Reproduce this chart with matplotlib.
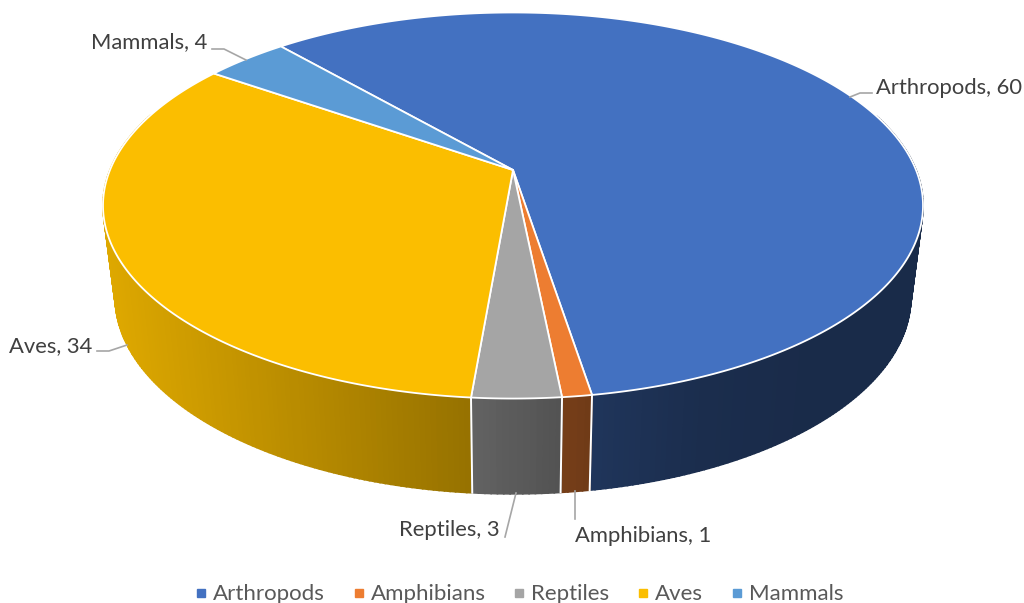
import numpy as np
import matplotlib
matplotlib.use("Agg")
import matplotlib.pyplot as plt
from matplotlib.lines import Line2D
from matplotlib.patches import Polygon

categories = ["Arthropods", "Amphibians", "Reptiles", "Aves", "Mammals"]
values = [60, 1, 3, 34, 4]
colors = ["#4371C1", "#ED7D31", "#A5A5A5", "#FBBE00", "#5B9BD5"]

START = -41.0
K = 0.184
CX = 513.0
TOP = dict(a=403.0, b=186.5, y0=170.0)
BOT = dict(a=391.0, b=190.0, y0=261.0)

plt.rcParams["font.family"] = ["Lato", "DejaVu Sans"]
fig = plt.figure(figsize=(10.24, 6.03), dpi=100, facecolor="white")
ax = fig.add_axes([0, 0, 1, 1])
ax.set_xlim(0, 1024)
ax.set_ylim(603, 0)
ax.axis("off")


def project(theta_deg, disc):
    t = np.radians(theta_deg)
    u, v = np.sin(t), -np.cos(t)
    w = 1 - K * v
    return CX + disc["a"] * u / w, disc["y0"] + disc["b"] * v / w, v


def shade(x):
    return np.interp(x, [105, 470, 560, 592, 700, 800], [0.89, 0.60, 0.50, 0.47, 0.40, 0.38])


total = sum(values)
spans = np.array(values) / total * 360
starts = START + np.concatenate([[0], np.cumsum(spans)[:-1]])

# side strips, painted back to front
strips = []
for start, span, col in zip(starts, spans, colors):
    th = np.linspace(start, start + span, max(int(span * 1.5), 3))
    for a, b in zip(th[:-1], th[1:]):
        xa, ya, va = project(a, TOP)
        xb, yb, vb = project(b, TOP)
        xc, yc, _ = project(b, BOT)
        xd, yd, _ = project(a, BOT)
        if max(va, vb) < -0.3:
            continue
        strips.append(((va + vb) / 2, [(xa, ya), (xb, yb), (xc, yc), (xd, yd)], col))
strips.sort(key=lambda s: s[0])
for _, pts, col in strips:
    f = shade(np.mean([p[0] for p in pts]))
    rgb = np.array(matplotlib.colors.to_rgb(col)) * f
    ax.add_patch(Polygon(pts, closed=True, fc=rgb, ec=rgb, lw=1.2, zorder=2))

# white seams between front side faces
for start in starts:
    x1, y1, v1 = project(start, TOP)
    x2, y2, _ = project(start, BOT)
    if v1 > 0:
        ax.plot([x1, x2], [y1, y2], color="white", lw=1.4, zorder=3)

# top face
for start, span, col in zip(starts, spans, colors):
    th = np.linspace(start, start + span, max(int(span * 3), 4))
    xs, ys, _ = project(th, TOP)
    pts = np.column_stack([np.r_[CX, xs], np.r_[TOP["y0"], ys]])
    ax.add_patch(Polygon(pts, closed=True, fc=col, ec="white", lw=1.3, joinstyle="round", zorder=4))

# data labels and leader lines
label_pos = [(876, 87.5, "left"), (575, 536, "left"), (500, 530, "right"), (92, 346, "right"), (207, 42, "right")]
leaders = [
    [(872, 93), (860, 93), (850, 97)],
    [(575, 519), (575, 491)],
    [(505, 537), (516, 493)],
    [(97, 351), (109, 351), (127, 345)],
    [(212, 49), (224, 49), (246, 60)],
]
for name, val, (x, y, ha), path in zip(categories, values, label_pos, leaders):
    ax.text(x, y, f"{name}, {val}", ha=ha, va="center", fontsize=15.8, color="#404040", zorder=6)
    ax.plot(*zip(*path), color="#A6A6A6", lw=1.2, zorder=5)

# legend
handles = [Line2D([], [], ls="", marker="s", ms=6, mfc=c, mec=c, label=n) for n, c in zip(categories, colors)]
leg = ax.legend(handles=handles, ncol=5, loc="center", bbox_to_anchor=(519 / 1024, 1 - 594.5 / 603),
                frameon=False, fontsize=16, labelcolor="#595959", handlelength=0.6, handletextpad=0.24,
                columnspacing=1.22, borderpad=0, borderaxespad=0)

fig.savefig("out.png", dpi=100, facecolor="white")
